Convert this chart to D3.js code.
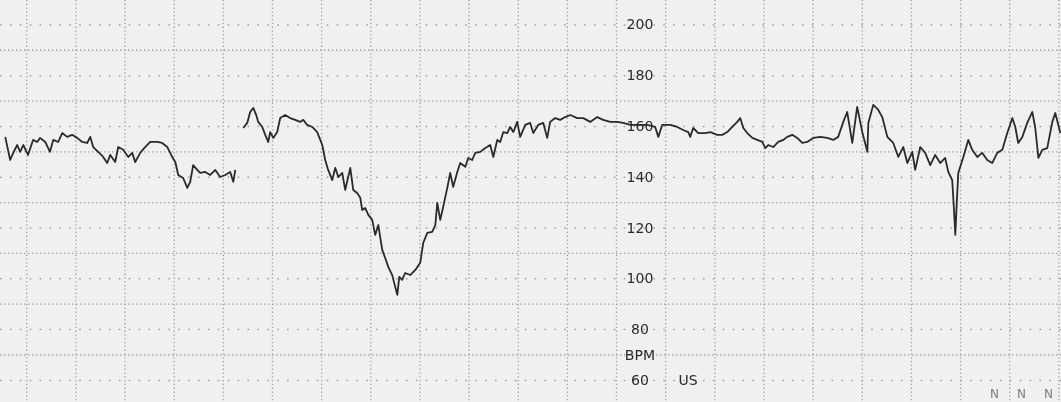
<!DOCTYPE html>
<html>
<head>
<meta charset="utf-8">
<script src="https://cdn.jsdelivr.net/npm/d3@7/dist/d3.min.js"></script>
<style>
  html, body { margin: 0; padding: 0; background: #efefef; overflow: hidden; }
  svg { display: block; }
  text { font-family: "DejaVu Sans", "Liberation Sans", sans-serif; }
</style>
</head>
<body>
<svg id="ctg" width="1061" height="402"></svg>
<script>
// Fetal heart rate trace (bpm) against time (s); grid every 30 s and every 10 bpm.
// The trace has a short signal loss, so it is kept as two segments.
const seg1Time = [-12.8, -9.8, -7.9, -5.5, -3.7, -1.8, 1.1, 4.2, 6.7, 8.5, 11.6, 14.5, 16.5, 19.5, 22.0, 25.0,
  28.0, 31.1, 34.2, 37.2, 39.1, 40.9, 43.9, 47.0, 49.4, 51.3, 54.3, 56.2, 59.2, 62.3, 64.7, 66.5, 69.6, 72.6,
  75.7, 80.0, 83.0, 86.1, 87.9, 89.1, 91.0, 92.8, 95.8, 98.3, 100.1, 101.9, 104.4, 106.2, 109.3, 112.3, 115.4,
  118.4, 121.5, 124.5, 126.4, 127.6];
const seg1Bpm = [155.7, 146.6, 149.4, 152.5, 149.8, 152.5, 148.6, 154.5, 153.7, 155.3, 153.7, 149.8, 154.5, 153.7,
  157.2, 155.7, 156.5, 155.3, 153.7, 153.3, 155.7, 151.7, 149.8, 147.8, 145.4, 148.6, 145.8, 151.7, 150.6, 147.8,
  149.4, 145.8, 149.4, 151.7, 153.7, 153.7, 153.3, 151.7, 149.4, 147.8, 145.8, 140.7, 139.5, 135.6, 138.0, 144.6,
  142.7, 141.5, 141.9, 140.7, 142.7, 139.9, 140.7, 141.9, 138.0, 142.7];

const seg2Time = [132.5, 134.9, 136.7, 138.6, 140.4, 141.6, 144.1, 145.9, 147.7, 148.9, 150.8, 153.2, 155.0, 158.1,
  161.1, 164.2, 167.2, 169.1, 171.5, 174.6, 177.6, 180.7, 182.5, 184.3, 186.8, 188.6, 190.5, 192.9, 194.7, 197.8,
  199.6, 202.0, 203.9, 205.1, 206.9, 208.8, 211.2, 213.0, 214.9, 217.3, 219.1, 221.0, 223.4, 224.6, 226.5, 227.7,
  229.5, 231.3, 234.4, 237.5, 240.5, 242.3, 244.8, 247.8, 249.7, 250.9, 252.7, 254.5, 257.0, 258.8, 260.6, 263.1,
  264.9, 268.0, 269.8, 272.2, 274.1, 277.1, 280.2, 283.2, 285.1, 287.5, 289.3, 291.2, 293.6, 295.4, 297.3, 299.7,
  301.5, 304.6, 307.6, 309.5, 312.5, 315.6, 318.0, 319.8, 322.9, 325.9, 329.0, 332.1, 336.3, 340.0, 344.3, 348.5,
  352.2, 356.5, 360.7, 364.4, 368.6, 372.9, 379.0, 383.9, 385.8, 388.2, 393.1, 397.4, 401.0, 404.1, 405.3, 407.1,
  410.2, 414.5, 417.5, 421.8, 424.8, 427.9, 430.9, 434.0, 435.8, 437.7, 440.1, 443.2, 446.2, 449.3, 451.1, 452.9,
  456.0, 459.0, 462.1, 464.5, 467.6, 470.6, 473.7, 476.7, 480.4, 484.7, 488.9, 492.6, 495.6, 498.7, 501.1, 504.2,
  507.2, 510.3, 513.4, 514.0, 517.0, 520.1, 522.5, 525.6, 529.2, 532.3, 535.3, 537.8, 540.8, 542.6, 545.7, 548.7,
  551.8, 554.8, 557.9, 560.9, 562.8, 565.2, 566.2, 567.1, 568.0, 568.9, 572.0, 575.0, 577.4, 580.5, 583.5, 586.6,
  589.6, 592.7, 595.8, 598.8, 601.9, 603.7, 605.5, 608.0, 611.0, 614.1, 615.9, 617.8, 620.2, 623.2, 626.3, 628.1,
  631.2];
const seg2Bpm = [159.2, 161.2, 165.5, 167.1, 164.3, 161.6, 159.6, 156.5, 153.7, 157.6, 155.3, 157.6, 163.1, 164.3,
  163.1, 162.4, 161.6, 162.4, 160.4, 159.6, 157.6, 152.5, 146.6, 142.7, 138.7, 143.5, 139.9, 141.5, 134.8, 143.5,
  134.8, 133.6, 131.7, 126.9, 127.7, 125.0, 123.0, 117.1, 121.0, 111.2, 108.0, 104.5, 101.3, 98.2, 93.5, 100.6,
  99.4, 102.1, 101.3, 103.3, 106.1, 113.9, 117.9, 118.3, 121.0, 129.7, 123.0, 128.1, 135.6, 141.5, 136.0, 141.9,
  145.4, 143.9, 147.4, 146.6, 149.4, 149.8, 151.3, 152.5, 147.8, 154.5, 153.7, 157.6, 157.2, 159.6, 157.6, 161.6,
  155.7, 160.4, 161.2, 157.2, 160.4, 161.2, 155.3, 161.6, 163.1, 162.4, 163.5, 164.3, 163.1, 163.1, 161.6, 163.5,
  162.4, 161.6, 161.6, 161.2, 160.4, 160.4, 160.4, 159.6, 155.7, 160.4, 160.4, 159.6, 158.4, 157.6, 155.7, 159.2,
  157.2, 157.2, 157.6, 156.5, 156.5, 157.6, 159.6, 161.6, 163.1, 159.2, 157.2, 155.3, 154.5, 153.7, 151.3, 152.5,
  151.7, 153.7, 154.5, 155.7, 156.5, 155.3, 153.3, 153.7, 155.3, 155.7, 155.3, 154.5, 155.7, 161.6, 165.5, 153.3,
  167.5, 157.6, 149.8, 161.2, 168.3, 166.3, 163.5, 155.7, 153.3, 147.8, 151.7, 145.4, 149.8, 142.7, 151.7, 149.4,
  144.6, 148.6, 145.4, 147.4, 141.9, 138.7, 128.0, 117.1, 130.0, 141.5, 147.8, 154.5, 150.6, 147.8, 149.4, 146.6,
  145.4, 149.4, 150.6, 157.2, 163.1, 159.6, 153.3, 155.7, 161.2, 165.5, 159.2, 147.4, 150.6, 151.3, 161.6, 165.1,
  157.2];

// Scale labels printed on the paper
const bpmLabels = [200, 180, 160, 140, 120, 100, 80, 60];
const unitLabel = "BPM";
const channelLabel = "US";
// Start of the uterine-activity channel marks (time, s)
const usMarkTimes = [591, 607.5, 624];

const W = 1061, H = 402;
const svg = d3.select("#ctg");

const x = d3.scaleLinear().domain([-16, 631.6]).range([0, W]);
const y = d3.scaleLinear().domain([51.3, 209.6]).range([H, 0]);

const defs = svg.append("defs");
defs.append("filter").attr("id", "soft")
  .append("feGaussianBlur").attr("stdDeviation", 0.5);
defs.append("filter").attr("id", "softer")
  .append("feGaussianBlur").attr("stdDeviation", 0.35);

svg.append("rect").attr("width", W).attr("height", H).attr("fill", "#f0f0f0");

const grid = svg.append("g").attr("filter", "url(#softer)");

// Vertical grid: every 30 s
const vTicks = d3.range(0, 631, 30);
grid.append("g")
  .call(d3.axisBottom(x).tickValues(vTicks).tickSize(H).tickFormat(""))
  .call(g => g.select(".domain").remove())
  .call(g => g.selectAll("line")
    .attr("stroke", "#a0a0a0").attr("stroke-width", 1.3)
    .attr("stroke-dasharray", "1.3 2.5"));

// Horizontal grid: every 10 bpm; odd tens finely dotted, even tens coarsely dotted
const hFine = d3.range(70, 210, 20);
const hCoarse = d3.range(60, 210, 20);
grid.append("g")
  .call(d3.axisRight(y).tickValues(hFine).tickSize(W).tickFormat(""))
  .call(g => g.select(".domain").remove())
  .call(g => g.selectAll("line")
    .attr("stroke", "#a2a2a2").attr("stroke-width", 1.3)
    .attr("stroke-dasharray", "1.4 2.6"));
grid.append("g")
  .call(d3.axisRight(y).tickValues(hCoarse).tickSize(W).tickFormat(""))
  .call(g => g.select(".domain").remove())
  .call(g => g.selectAll("line")
    .attr("stroke", "#a2a2a2").attr("stroke-width", 1.5)
    .attr("stroke-dasharray", "1.6 8.3"));

// Printed bpm scale in the middle of the strip
const labelAxis = svg.append("g")
  .attr("transform", `translate(${x(374.6)},0)`)
  .call(d3.axisRight(y).tickValues(bpmLabels).tickSize(0).tickPadding(0))
  .call(g => g.select(".domain").remove());
labelAxis.selectAll("text")
  .attr("fill", "#2a2a2a")
  .attr("text-anchor", "middle")
  .style("font-size", "14px")
  .style("font-family", "'DejaVu Sans', sans-serif")
  .attr("filter", "url(#softer)");

svg.append("text")
  .attr("x", x(374.6)).attr("y", y(70)).attr("dy", "0.38em")
  .attr("text-anchor", "middle")
  .attr("fill", "#2a2a2a").style("font-size", "14px")
  .attr("filter", "url(#softer)")
  .text(unitLabel);

svg.append("text")
  .attr("x", x(404)).attr("y", y(60)).attr("dy", "0.36em")
  .attr("text-anchor", "middle")
  .attr("fill", "#2a2a2a").style("font-size", "14px")
  .attr("filter", "url(#softer)")
  .text(channelLabel);

// Uterine-activity channel start marks at the bottom edge
svg.append("g").selectAll("text")
  .data(usMarkTimes).join("text")
  .attr("x", d => x(d)).attr("y", H - 4)
  .attr("text-anchor", "middle")
  .attr("fill", "#7e7e7e").style("font-size", "12px")
  .attr("filter", "url(#softer)")
  .text("N");

// Heart-rate trace
const line = d3.line()
  .x(d => x(d[0]))
  .y(d => y(d[1]))
  .curve(d3.curveLinear);

const segments = [
  d3.zip(seg1Time, seg1Bpm),
  d3.zip(seg2Time, seg2Bpm)
];

const trace = svg.append("g").attr("filter", "url(#soft)");
trace.selectAll("path")
  .data(segments).join("path")
  .attr("d", line)
  .attr("fill", "none")
  .attr("stroke", "#2a2a2a")
  .attr("stroke-width", 1.8)
  .attr("stroke-linejoin", "round");
</script>
</body>
</html>
